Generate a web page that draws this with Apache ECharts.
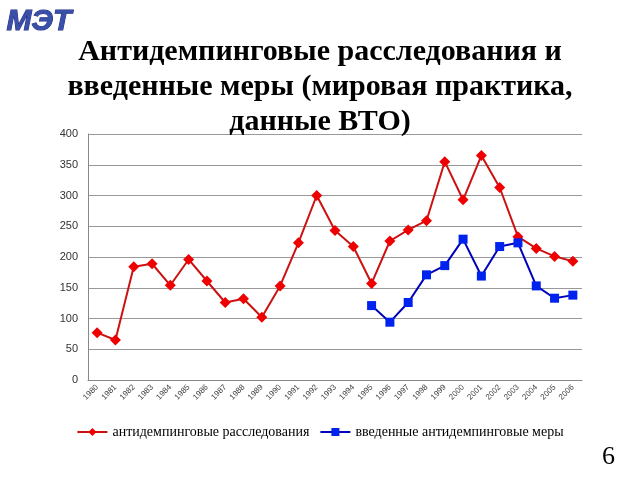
<!DOCTYPE html>
<html>
<head>
<meta charset="utf-8">
<script src="https://cdn.jsdelivr.net/npm/echarts@6/dist/echarts.min.js"></script>
<style>
  html, body { margin: 0; padding: 0; background: #fff; }
  #chartData { width: 640px; height: 480px; }
</style>
</head>
<body>
<div id="chartData"></div>
<script>
// годы
var years = ['1980', '1981', '1982', '1983', '1984', '1985', '1986', '1987', '1988',
    '1989', '1990', '1991', '1992', '1993', '1994', '1995', '1996', '1997', '1998',
    '1999', '2000', '2001', '2002', '2003', '2004', '2005', '2006'];

// антидемпинговые расследования
var investigations = [77, 65, 184, 189, 154, 196, 161, 126, 132, 102, 153, 223, 300,
    243, 217, 157, 226, 244, 259, 355, 293, 365, 313, 233, 214, 201, 193];

// введенные антидемпинговые меры (данные с 1995 года)
var measures = ['-', '-', '-', '-', '-', '-', '-', '-', '-', '-', '-', '-', '-', '-', '-',
    121, 94, 126, 171, 186, 229, 169, 217, 223, 153, 133, 138];

var legends = ['антидемпинговые расследования', 'введенные антидемпинговые меры'];
var titleText = 'Антидемпинговые расследования и\nвведенные меры (мировая практика,\nданные ВТО)';

var myChart = echarts.init(document.getElementById('chartData'));

var option = {
    animation: false,
    title: {
        text: titleText,
        left: 'center',
        top: 30,
        textStyle: {
            fontFamily: 'Liberation Serif',
            fontWeight: 'bold',
            fontSize: 30,
            lineHeight: 35,
            color: '#000'
        }
    },
    graphic: [
        {
            type: 'text',
            left: 6,
            top: 6,
            style: {
                text: 'МЭТ',
                fontFamily: 'Liberation Sans',
                fontStyle: 'italic',
                fontWeight: 'bold',
                fontSize: 30,
                fill: '#3a4fa8',
                stroke: '#1c2a80',
                lineWidth: 1
            }
        },
        {
            type: 'text',
            left: 602,
            top: 444,
            style: {
                text: '6',
                fontFamily: 'Liberation Serif',
                fontSize: 26,
                fill: '#000'
            }
        }
    ],
    legend: {
        data: legends,
        bottom: 36,
        left: 'center',
        itemWidth: 30,
        itemHeight: 10,
        itemGap: 10,
        textStyle: {
            fontFamily: 'Liberation Serif',
            fontSize: 14,
            color: '#000'
        }
    },
    grid: {
        left: 88,
        right: 58,
        top: 134,
        bottom: 100
    },
    xAxis: {
        type: 'category',
        data: years,
        axisLine: { lineStyle: { color: '#888' } },
        axisTick: { lineStyle: { color: '#888' } },
        axisLabel: {
            interval: 0,
            rotate: 45,
            fontFamily: 'Liberation Sans',
            fontSize: 8,
            color: '#444',
            margin: 6
        }
    },
    yAxis: {
        type: 'value',
        min: 0,
        max: 400,
        interval: 50,
        axisLine: { show: true, lineStyle: { color: '#888' } },
        axisTick: { show: false },
        splitLine: { lineStyle: { color: '#999' } },
        axisLabel: {
            fontFamily: 'Liberation Sans',
            fontSize: 11,
            color: '#333',
            margin: 10
        }
    },
    series: [
        {
            name: legends[0],
            type: 'line',
            data: investigations,
            symbol: 'diamond',
            symbolSize: 11,
            lineStyle: { color: '#cc1111', width: 2 },
            itemStyle: { color: '#ee0000' }
        },
        {
            name: legends[1],
            type: 'line',
            data: measures,
            symbol: 'rect',
            symbolSize: 9,
            lineStyle: { color: '#0000bb', width: 2 },
            itemStyle: { color: '#0022ee' }
        }
    ]
};

myChart.setOption(option);
</script>
</body>
</html>
